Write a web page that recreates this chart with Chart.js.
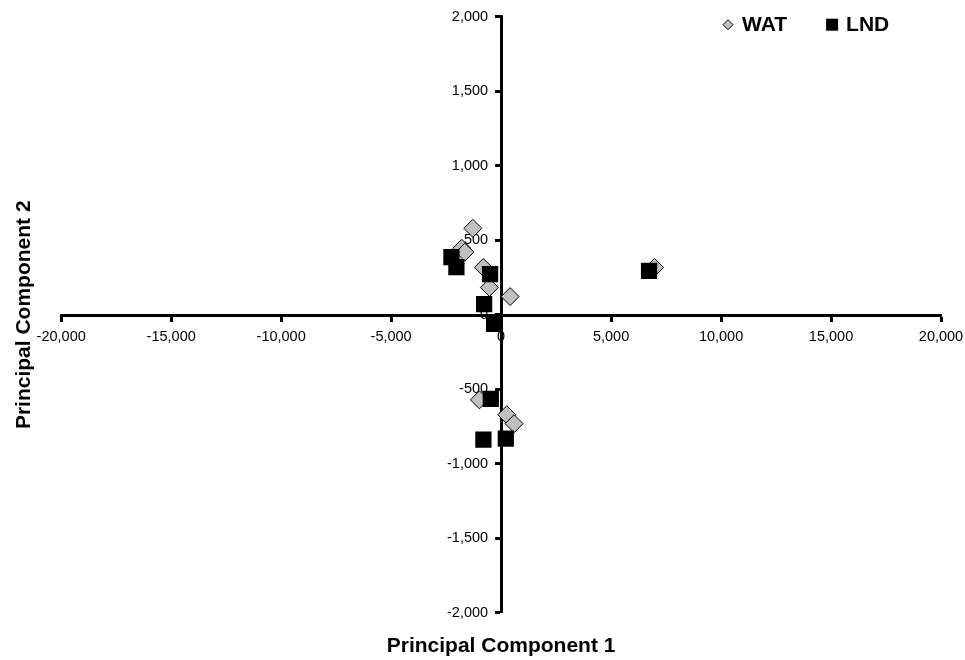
<!DOCTYPE html>
<html>
<head>
<meta charset="utf-8">
<title>Principal Component plot</title>
<script src="https://cdn.jsdelivr.net/npm/chart.js@4.4.1/dist/chart.umd.min.js"></script>
<style>
  html, body { margin: 0; padding: 0; background: #fff; }
  #wrap { width: 965px; height: 660px; position: relative; }
</style>
</head>
<body>
<div id="wrap"><canvas id="pcaChart"></canvas></div>
<script>
// PC1 / PC2 scores for each group
const watX = [-1286, -1786, -1650, -805, -532, 409, 6977, -986, 259, 591];
const watY = [580, 446, 420, 317, 183, 122, 317, -571, -671, -731];
const lndX = [-2257, -2032, -500, -773, -318, 6727, -468, -805, 214];
const lndY = [386, 319, 272, 72, -62, 294, -564, -838, -831];

const seriesNames = ["WAT", "LND"];
const xTicks = [-20000, -15000, -10000, -5000, 0, 5000, 10000, 15000, 20000];
const yTicks = [-2000, -1500, -1000, -500, 0, 500, 1000, 1500, 2000];

const FONT = 'Arial, "Liberation Sans", sans-serif';
Chart.defaults.font.family = FONT;
Chart.defaults.color = "#000";

function toPoints(xs, ys) {
  return xs.map((x, i) => ({ x: x, y: ys[i] }));
}

// legend drawn inside the plot, top right, in one row
const insetLegend = {
  id: "insetLegend",
  afterDraw(chart) {
    const ctx = chart.ctx;
    const area = chart.chartArea;
    const cy = area.top + 8;
    let x = area.right - 221;
    ctx.save();
    ctx.font = "bold 21px " + FONT;
    ctx.textBaseline = "middle";
    ctx.textAlign = "left";
    chart.data.datasets.forEach((ds) => {
      const cx = x + 8;
      ctx.beginPath();
      if (ds.pointStyle === "rectRot") {
        ctx.moveTo(cx, cy - 5);
        ctx.lineTo(cx + 5, cy);
        ctx.lineTo(cx, cy + 5);
        ctx.lineTo(cx - 5, cy);
        ctx.closePath();
        ctx.fillStyle = ds.backgroundColor;
        ctx.fill();
        ctx.lineWidth = 1;
        ctx.strokeStyle = ds.borderColor;
        ctx.stroke();
      } else {
        ctx.rect(cx - 6, cy - 6, 12, 12);
        ctx.fillStyle = ds.backgroundColor;
        ctx.fill();
      }
      ctx.fillStyle = "#000";
      ctx.fillText(ds.label, x + 22, cy + 1);
      x += 22 + ctx.measureText(ds.label).width + 37;
    });
    ctx.restore();
  },
};

const axisBase = {
  type: "linear",
  position: "center",
  border: { display: true, color: "#000", width: 3 },
  grid: {
    display: true,
    drawOnChartArea: false,
    drawTicks: true,
    tickLength: 5,
    tickWidth: 3,
    tickColor: "#000",
  },
};

new Chart(document.getElementById("pcaChart"), {
  type: "scatter",
  data: {
    datasets: [
      {
        label: seriesNames[0],
        data: toPoints(watX, watY),
        pointStyle: "rectRot",
        pointRadius: 9,
        backgroundColor: "#c0c0c0",
        borderColor: "#000",
        borderWidth: 1,
        order: 1,
      },
      {
        label: seriesNames[1],
        data: toPoints(lndX, lndY),
        pointStyle: "rect",
        pointRadius: 11.5,
        backgroundColor: "#000",
        borderColor: "#000",
        borderWidth: 0,
        order: 0,
      },
    ],
  },
  options: {
    responsive: true,
    maintainAspectRatio: false,
    animation: false,
    events: [],
    layout: { padding: { top: 15, right: 24, bottom: 0, left: 0 } },
    plugins: {
      legend: { display: false },
      tooltip: { enabled: false },
      title: {
        display: true,
        position: "bottom",
        fullSize: false,
        text: "Principal Component 1",
        color: "#000",
        font: { size: 21, weight: "bold" },
        padding: { top: 21, bottom: 1 },
      },
      subtitle: {
        display: true,
        position: "left",
        fullSize: false,
        text: "Principal Component 2",
        color: "#000",
        font: { size: 21, weight: "bold" },
        padding: { top: 12, bottom: 24 },
      },
    },
    scales: {
      x: {
        ...axisBase,
        min: xTicks[0],
        max: xTicks[xTicks.length - 1],
        afterBuildTicks: (scale) => {
          scale.ticks = xTicks.map((v) => ({ value: v }));
        },
        // end labels may hang past the plot edge
        afterFit: (scale) => {
          scale.paddingLeft = 0;
          scale.paddingRight = 0;
        },
        ticks: {
          font: { size: 14.5 },
          color: "#000",
          padding: 9,
          maxRotation: 0,
          autoSkip: false,
        },
      },
      y: {
        ...axisBase,
        min: yTicks[0],
        max: yTicks[yTicks.length - 1],
        afterBuildTicks: (scale) => {
          scale.ticks = yTicks.map((v) => ({ value: v }));
        },
        ticks: {
          z: -1,
          font: { size: 14.5 },
          color: "#000",
          padding: 8,
          autoSkip: false,
        },
      },
    },
  },
  plugins: [insetLegend],
});
</script>
</body>
</html>
